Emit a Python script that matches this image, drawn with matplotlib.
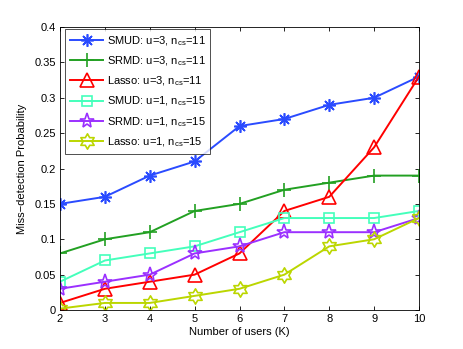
import numpy as np
import matplotlib
matplotlib.use("Agg")
import matplotlib.pyplot as plt
from matplotlib.path import Path

plt.rcParams['font.family'] = ['Liberation Sans', 'DejaVu Sans']
plt.rcParams['mathtext.fontset'] = 'custom'
plt.rcParams['mathtext.rm'] = 'Liberation Sans'
plt.rcParams['mathtext.it'] = 'Liberation Sans'

users = [2, 3, 4, 5, 6, 7, 8, 9, 10]
smud_u3 = [0.15, 0.16, 0.19, 0.21, 0.26, 0.27, 0.29, 0.30, 0.33]
srmd_u3 = [0.08, 0.10, 0.11, 0.14, 0.15, 0.17, 0.18, 0.19, 0.19]
lasso_u3 = [0.01, 0.03, 0.04, 0.05, 0.08, 0.14, 0.16, 0.23, 0.33]
smud_u1 = [0.04, 0.07, 0.08, 0.09, 0.11, 0.13, 0.13, 0.13, 0.14]
srmd_u1 = [0.03, 0.04, 0.05, 0.08, 0.09, 0.11, 0.11, 0.11, 0.13]
lasso_u1 = [0.002, 0.01, 0.01, 0.02, 0.03, 0.05, 0.09, 0.10, 0.13]
labels = [r"SMUD: u=3, n$_{\rm cs}$=11", r"SRMD: u=3, n$_{\rm cs}$=11", r"Lasso: u=3, n$_{\rm cs}$=11",
          r"SMUD: u=1, n$_{\rm cs}$=15", r"SRMD: u=1, n$_{\rm cs}$=15", r"Lasso: u=1, n$_{\rm cs}$=15"]

# hexagram marker
ang = np.pi/2 + np.arange(12) * np.pi / 6
rad = np.where(np.arange(12) % 2 == 0, 1.0, 1/np.sqrt(3))
hexv = np.column_stack([rad*np.cos(ang), rad*np.sin(ang)])
hexv = np.vstack([hexv, hexv[:1]])
hexagram = Path(hexv, closed=True)

fig = plt.figure(figsize=(4.63, 3.49), dpi=100)
ax = fig.add_axes([0.1296, 0.1117, 0.905-0.1296, 0.9226-0.1117])

series = [smud_u3, srmd_u3, lasso_u3, smud_u1, srmd_u1, lasso_u1]
colors = ['#2a4bff', '#22a022', '#ff0000', '#44ffbb', '#9b30ff', '#bbd600']
markers = [(8, 2, 0), '+', '^', 's', '*', hexagram]
msizes = [9, 10, 10, 7, 11, 11]
for s, c, m, ms, l in zip(series, colors, markers, msizes, labels):
    ax.plot(users, s, color=c, marker=m, markersize=ms, markerfacecolor='none',
            markeredgecolor=c, markeredgewidth=1.2, linewidth=1.4, label=l)

ax.set_xlim(2, 10)
ax.set_ylim(0, 0.4)
ax.set_xticks(users)
ax.set_yticks(np.arange(0, 0.41, 0.05))
ax.set_yticklabels(['0', '0.05', '0.1', '0.15', '0.2', '0.25', '0.3', '0.35', '0.4'])
ax.tick_params(direction='in', top=True, right=True, labelsize=8, length=3, width=0.6, pad=3)
for sp in ax.spines.values():
    sp.set_linewidth(0.6)
ax.set_xlabel('Number of users (K)', fontsize=8, labelpad=2)
ax.set_ylabel('Miss\u2212detection Probability', fontsize=8, labelpad=5)

leg = ax.legend(loc='upper left', bbox_to_anchor=(5/359, 1-2/283), fontsize=8.0,
                frameon=True, fancybox=False, edgecolor='black', borderaxespad=0,
                handlelength=3.0, labelspacing=0.6, borderpad=0.45, handletextpad=0.3)
leg.get_frame().set_linewidth(0.6)

fig.savefig('out.png', dpi=100)
